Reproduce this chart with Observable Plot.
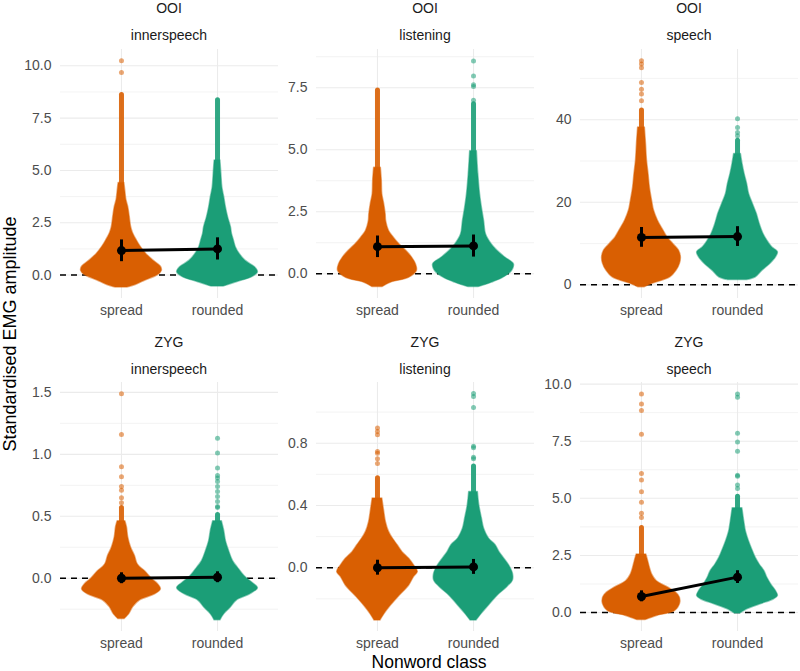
<!DOCTYPE html>
<html><head><meta charset="utf-8">
<script src="https://cdn.jsdelivr.net/npm/d3@7"></script>
<script src="https://cdn.jsdelivr.net/npm/@observablehq/plot@0.6"></script>
<style>
body{margin:0;background:#fff;}
#chart{position:relative;width:800px;height:671px;overflow:hidden;font-family:"Liberation Sans",Arial,sans-serif;}
.lbl{position:absolute;transform:translate(-50%,-50%);white-space:nowrap;}
.strip{font-size:14px;color:#1a1a1a;}
.panel{position:absolute;}
</style></head><body><div id="chart"></div><script>
// ---- data ----
const muscles = ["OOI","OOI","OOI","ZYG","ZYG","ZYG"];
const tasks = ["innerspeech","listening","speech","innerspeech","listening","speech"];
const classes = ["spread","rounded"];
const classColors = ["#D95F02","#1B9E77"];

// violin/beeswarm outline: [value, half-width in class units]
const ooiInnerSpread = [[-0.60,0.06],[-0.45,0.16],[-0.26,0.25],[0.0,0.38],[0.2,0.42],[0.4,0.41],[0.7,0.33],[1.0,0.26],[1.35,0.20],[1.65,0.16],[2.0,0.12],[2.3,0.10],[2.8,0.085],[3.25,0.07],[3.6,0.05],[4.0,0.04],[4.4,0.03]];
const ooiInnerRounded = [[-0.55,0.06],[-0.34,0.20],[-0.10,0.36],[0.13,0.42],[0.37,0.39],[0.69,0.29],[1.01,0.23],[1.33,0.19],[1.65,0.17],[1.97,0.15],[2.28,0.14],[2.76,0.11],[3.24,0.087],[3.71,0.07],[4.19,0.05],[4.83,0.04],[5.47,0.03]];
const ooiListenSpread = [[-0.54,0.05],[-0.36,0.14],[-0.16,0.33],[0.11,0.41],[0.38,0.40],[0.65,0.36],[0.92,0.30],[1.18,0.23],[1.45,0.17],[1.72,0.12],[2.12,0.09],[2.39,0.085],[2.80,0.07],[3.20,0.05],[3.74,0.045],[4.27,0.035]];
const ooiListenRounded = [[-0.54,0.05],[-0.36,0.19],[-0.16,0.31],[0.11,0.40],[0.38,0.42],[0.65,0.33],[0.92,0.25],[1.18,0.19],[1.58,0.13],[2.12,0.11],[2.66,0.087],[3.20,0.068],[4.00,0.05],[4.94,0.035]];
const ooiSpeechSpread = [[-0.58,0.03],[0.24,0.11],[1.84,0.30],[3.46,0.365],[5.08,0.40],[6.69,0.41],[8.30,0.39],[9.92,0.33],[11.5,0.27],[13.1,0.23],[15.6,0.17],[18.0,0.13],[20.4,0.11],[23.6,0.087],[26.9,0.073],[30.1,0.057],[34.1,0.047],[38.1,0.035]];
const ooiSpeechRounded = [[1.2,0.10],[1.84,0.19],[3.46,0.26],[5.08,0.34],[6.69,0.40],[7.9,0.42],[9.1,0.36],[10.7,0.31],[12.3,0.27],[14.8,0.23],[17.2,0.20],[19.6,0.16],[22.0,0.12],[24.4,0.10],[26.9,0.073],[29.3,0.052],[31.7,0.035]];
const zygInnerSpread = [[-0.33,0.03],[-0.29,0.08],[-0.235,0.12],[-0.18,0.19],[-0.13,0.35],[-0.09,0.41],[-0.048,0.38],[-0.008,0.32],[0.045,0.26],[0.11,0.17],[0.18,0.14],[0.246,0.10],[0.33,0.07],[0.41,0.057],[0.46,0.04]];
const zygInnerRounded = [[-0.34,0.03],[-0.29,0.07],[-0.235,0.14],[-0.18,0.20],[-0.13,0.34],[-0.08,0.42],[-0.035,0.36],[0.018,0.28],[0.086,0.21],[0.14,0.16],[0.22,0.12],[0.30,0.087],[0.38,0.07],[0.46,0.045]];
const zygListenSpread = [[-0.34,0.03],[-0.30,0.07],[-0.243,0.14],[-0.18,0.23],[-0.114,0.33],[-0.06,0.38],[-0.028,0.42],[0.015,0.38],[0.058,0.33],[0.10,0.26],[0.144,0.21],[0.187,0.16],[0.23,0.12],[0.294,0.087],[0.36,0.07],[0.445,0.05]];
const zygListenRounded = [[-0.34,0.03],[-0.30,0.08],[-0.243,0.16],[-0.18,0.25],[-0.125,0.35],[-0.082,0.41],[-0.039,0.41],[0.015,0.37],[0.058,0.32],[0.10,0.27],[0.144,0.23],[0.187,0.16],[0.25,0.11],[0.316,0.087],[0.40,0.06],[0.487,0.045]];
const zygSpeechSpread = [[-0.33,0.04],[-0.15,0.16],[0.07,0.35],[0.36,0.40],[0.65,0.40],[0.87,0.36],[1.09,0.28],[1.37,0.16],[1.67,0.11],[1.96,0.087],[2.24,0.07],[2.54,0.05]];
const zygSpeechRounded = [[-0.04,0.03],[0.14,0.10],[0.36,0.24],[0.58,0.38],[0.72,0.42],[0.94,0.40],[1.23,0.35],[1.52,0.31],[1.81,0.28],[2.10,0.23],[2.39,0.19],[2.68,0.16],[3.11,0.12],[3.55,0.087],[3.98,0.07],[4.57,0.05]];

// single-file column of points above the body: [from, to]
const spreadColumns = [[4.4,8.6],[4.27,7.39],[38.1,42.2],[0.46,0.567],[0.445,0.574],[2.54,3.70]];
const roundedColumns = [[5.47,8.35],[4.94,6.83],[31.7,34.9],[0.46,0.51],[0.487,0.65],[4.57,5.07]];

// isolated points
const spreadOutliers = [[9.68,10.24],[],[44.6,46.2,47.4,49.0,52.6,53.5,54.3],[0.61,0.65,0.71,0.74,0.82,0.90,1.16,1.49],[0.67,0.70,0.735,0.746,0.854,0.875,0.897],[4.16,4.35,4.83,5.29,5.80,6.09,7.80,8.84,9.13,9.57]];
const roundedOutliers = [[],[6.99,7.55,7.62,7.97,8.58],[36.1,36.9,38.1,40.2],[0.57,0.58,0.62,0.66,0.70,0.74,0.78,0.81,0.83,0.89,1.01,1.13],[0.70,0.71,0.77,0.78,1.03,1.10,1.12],[5.43,5.58,5.97,6.01,7.06,7.46,7.85,9.42,9.57]];

// means with intervals
const spreadMean = [1.17,1.09,11.5,0.0,0.0,0.70];
const spreadLo = [0.64,0.65,9.1,-0.044,-0.048,0.47];
const spreadHi = [1.68,1.52,13.9,0.044,0.048,0.95];
const roundedMean = [1.25,1.12,11.7,0.008,0.005,1.55];
const roundedLo = [0.72,0.67,9.3,-0.036,-0.043,1.27];
const roundedHi = [1.78,1.56,14.1,0.052,0.053,1.83];

// y axes
const yDomains = [[-1.12,10.78],[-1.0,9.04],[-3.3,57.0],[-0.43,1.58],[-0.41,1.19],[-0.83,10.07]];
const majorTicks = [[0,2.5,5,7.5,10],[0,2.5,5,7.5],[0,20,40],[0,0.5,1.0,1.5],[0,0.4,0.8],[0,2.5,5,7.5,10]];
const majorLabels = [["0.0","2.5","5.0","7.5","10.0"],["0.0","2.5","5.0","7.5"],["0","20","40"],["0.0","0.5","1.0","1.5"],["0.0","0.4","0.8"],["0.0","2.5","5.0","7.5","10.0"]];
const minorTicks = [[1.25,3.75,6.25,8.75],[1.25,3.75,6.25,8.75],[10,30,50],[-0.25,0.25,0.75,1.25],[-0.2,0.2,0.6,1.0],[1.25,3.75,6.25,8.75]];

const spreadProfiles = [ooiInnerSpread,ooiListenSpread,ooiSpeechSpread,zygInnerSpread,zygListenSpread,zygSpeechSpread];
const roundedProfiles = [ooiInnerRounded,ooiListenRounded,ooiSpeechRounded,zygInnerRounded,zygListenRounded,zygSpeechRounded];

// ---- layout ----
const chart = document.getElementById("chart");
const colLeft = [60,316,580];
const rowTop = [49,382];
const panelW = 218, panelH = 249, mL = 50, mB = 30;
const grid = "#EBEBEB";

function addLabel(text, x, y, cls, extra) {
  const d = document.createElement("div");
  d.className = "lbl " + cls;
  d.textContent = text;
  d.style.left = x + "px"; d.style.top = y + "px";
  if (extra) Object.assign(d.style, extra);
  chart.appendChild(d);
}

for (let i = 0; i < 6; i++) {
  const col = i % 3, row = Math.floor(i / 3);
  const profiles = [spreadProfiles[i], roundedProfiles[i]];
  const columns = [spreadColumns[i], roundedColumns[i]];
  const outliers = [spreadOutliers[i], roundedOutliers[i]];
  const means = [
    {x: 1, y: spreadMean[i], lo: spreadLo[i], hi: spreadHi[i]},
    {x: 2, y: roundedMean[i], lo: roundedLo[i], hi: roundedHi[i]}
  ];
  const marks = [
    Plot.ruleY(minorTicks[i], {stroke: grid, strokeWidth: 0.6}),
    Plot.ruleY(majorTicks[i], {stroke: grid, strokeWidth: 1.1}),
    Plot.ruleX([1, 2], {stroke: grid, strokeWidth: 1.1}),
    Plot.ruleY([0], {stroke: "black", strokeWidth: 1.5, strokeDasharray: "6,5"})
  ];
  for (let k = 0; k < 2; k++) {
    const c = k + 1, color = classColors[k];
    const rows = profiles[k].map(([y, w]) => ({y, x1: c - w, x2: c + w}));
    marks.push(Plot.areaX(rows, {y: "y", x1: "x1", x2: "x2", fill: color, stroke: color, strokeWidth: 1.5, strokeOpacity: 0.5, curve: "catmull-rom"}));
    marks.push(Plot.ruleX([{x: c, y1: columns[k][0], y2: columns[k][1]}], {x: "x", y1: "y1", y2: "y2", stroke: color, strokeWidth: 5, strokeOpacity: 0.9, strokeLinecap: "round"}));
    marks.push(Plot.dot(outliers[k].map(v => ({x: c, y: v})), {x: "x", y: "y", r: 2.5, fill: color, fillOpacity: 0.55, stroke: "none"}));
  }
  marks.push(
    Plot.line(means, {x: "x", y: "y", stroke: "black", strokeWidth: 3}),
    Plot.ruleX(means, {x: "x", y1: "lo", y2: "hi", stroke: "black", strokeWidth: 3}),
    Plot.dot(means, {x: "x", y: "y", r: 4.5, fill: "black", stroke: "none"}),
    Plot.axisY({ticks: majorTicks[i], tickFormat: d => majorLabels[i][majorTicks[i].indexOf(d)], tickSize: 0, tickPadding: 9, fontSize: 14}),
    Plot.axisX({ticks: [1, 2], tickFormat: d => classes[d - 1], tickSize: 0, tickPadding: 7, fontSize: 14})
  );
  const svg = Plot.plot({
    width: mL + panelW, height: panelH + mB,
    marginLeft: mL, marginRight: 0, marginTop: 0, marginBottom: mB,
    x: {domain: [0.365, 2.635]},
    y: {domain: yDomains[i]},
    style: {background: "transparent", fontFamily: "'Liberation Sans', Arial, sans-serif", fontSize: "14px", color: "#4d4d4d", overflow: "visible"},
    marks
  });
  svg.classList.add("panel");
  svg.style.left = (colLeft[col] - mL) + "px";
  svg.style.top = rowTop[row] + "px";
  svg.style.position = "absolute";
  chart.appendChild(svg);
  const cx = colLeft[col] + panelW / 2;
  addLabel(muscles[i], cx, row === 0 ? 8 : 342, "strip");
  addLabel(tasks[i], cx, row === 0 ? 35 : 369, "strip");
}
addLabel("Standardised EMG amplitude", 10, 334, "", {fontSize: "18px", color: "black", transform: "translate(-50%,-50%) rotate(-90deg)"});
addLabel("Nonword class", 429, 662, "", {fontSize: "17.5px", color: "black"});
</script></body></html>
